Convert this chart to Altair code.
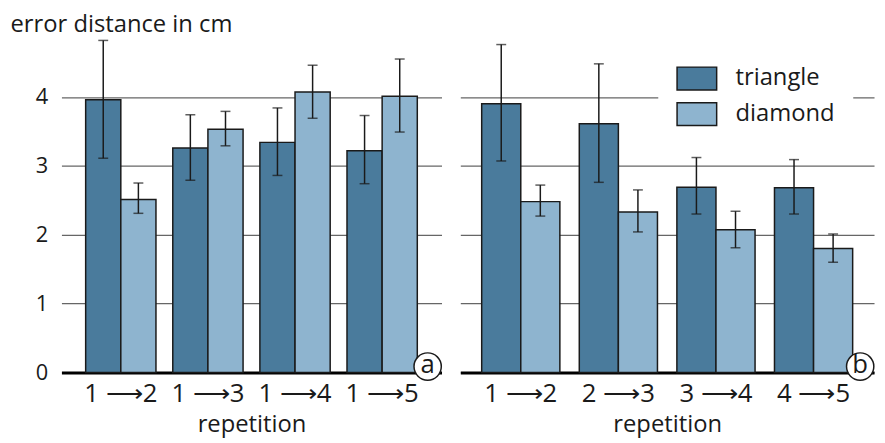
import altair as alt
import pandas as pd

FONT = "Open Sans"
INK = "#1a1a1a"

series = ["triangle", "diamond"]
series_colors = ["#4a7b9c", "#8eb4cf"]

groups_a = ["1 ⟶2", "1 ⟶3", "1 ⟶4", "1 ⟶5"]
a_tri = [3.96, 3.26, 3.34, 3.22]
a_tri_lo = [3.11, 2.79, 2.86, 2.74]
a_tri_hi = [4.82, 3.74, 3.84, 3.73]
a_dia = [2.51, 3.53, 4.07, 4.01]
a_dia_lo = [2.31, 3.29, 3.69, 3.49]
a_dia_hi = [2.75, 3.79, 4.46, 4.55]

groups_b = ["1 ⟶2", "2 ⟶3", "3 ⟶4", "4 ⟶5"]
b_tri = [3.90, 3.61, 2.69, 2.68]
b_tri_lo = [3.07, 2.76, 2.30, 2.30]
b_tri_hi = [4.76, 4.48, 3.12, 3.09]
b_dia = [2.48, 2.33, 2.07, 1.80]
b_dia_lo = [2.27, 2.04, 1.81, 1.60]
b_dia_hi = [2.72, 2.65, 2.34, 2.01]

y_ticks = [0, 1, 2, 3, 4]


def frame(groups, tri, tri_lo, tri_hi, dia, dia_lo, dia_hi):
    rows = []
    for i, g in enumerate(groups):
        rows.append(dict(rep=g, shape="triangle", value=tri[i], lo=tri_lo[i], hi=tri_hi[i]))
        rows.append(dict(rep=g, shape="diamond", value=dia[i], lo=dia_lo[i], hi=dia_hi[i]))
    return pd.DataFrame(rows)


def panel(df, groups, width, p_outer, p_inner, first, tag):
    x = alt.X(
        "rep:N", sort=groups,
        scale=alt.Scale(paddingInner=p_inner, paddingOuter=p_outer),
        axis=alt.Axis(title="repetition", labelAngle=0, ticks=False,
                      domainColor="black", domainWidth=3,
                      labelFont=FONT, labelFontSize=26, labelColor=INK, labelPadding=8,
                      titleFont=FONT, titleFontSize=24, titleFontWeight="normal",
                      titleColor=INK, titlePadding=7),
    )
    xo = alt.XOffset("shape:N", sort=series, scale=alt.Scale(paddingInner=0, paddingOuter=0))
    ytitle = "error distance in cm" if first else ""
    if first:
        yaxis = alt.Axis(values=y_ticks, format="d", grid=True, gridColor="#666666", gridWidth=1.3,
                         domain=False, ticks=False, labelFont=FONT, labelFontSize=22,
                         labelColor=INK, labelPadding=14,
                         title=ytitle, titleAngle=0, titleAlign="left",
                         titleBaseline="alphabetic", titleX=-52, titleY=4,
                         titleFont=FONT, titleFontSize=24, titleFontWeight="normal",
                         titleColor=INK)
    else:
        yaxis = alt.Axis(values=y_ticks, grid=True, gridColor="#666666", gridWidth=1.3,
                         domain=False, ticks=False, labels=False, title=None)
    yscale = alt.Scale(domain=[0, 5], nice=False)
    y = alt.Y("value:Q", scale=yscale, axis=yaxis, title=ytitle)
    if first:
        legend = None
    else:
        legend = alt.Legend(title=None, orient="none", legendX=200, legendY=12,
                            fillColor="white", padding=18,
                            symbolType="M-1,-0.575L1,-0.575L1,0.575L-1,0.575Z",
                            symbolSize=1600, symbolStrokeColor=INK, symbolStrokeWidth=1.5,
                            labelFont=FONT, labelFontSize=24, labelColor=INK,
                            labelOffset=18, rowPadding=-18)
    color = alt.Color("shape:N", sort=series,
                      scale=alt.Scale(domain=series, range=series_colors), legend=legend)
    base = alt.Chart(df)
    bars = base.mark_bar(stroke=INK, strokeWidth=1.5).encode(x=x, xOffset=xo, y=y, color=color)
    rules = base.mark_rule(color=INK, strokeWidth=1.5).encode(
        x=x, xOffset=xo, y=alt.Y("lo:Q", scale=yscale, title=ytitle), y2="hi:Q")
    cap_lo = base.mark_tick(color=INK, thickness=1.5, size=10).encode(
        x=x, xOffset=xo, y=alt.Y("lo:Q", scale=yscale, title=ytitle))
    cap_hi = base.mark_tick(color=INK, thickness=1.5, size=10).encode(
        x=x, xOffset=xo, y=alt.Y("hi:Q", scale=yscale, title=ytitle))
    tag_df = pd.DataFrame({"t": [tag]})
    circ = alt.Chart(tag_df).mark_circle(size=760, color="white", stroke=INK,
                                         strokeWidth=1.5, opacity=1).encode(
        x=alt.value(width - 14), y=alt.value(342))
    txt = alt.Chart(tag_df).mark_text(font=FONT, fontSize=26, color=INK,
                                      baseline="middle", dy=-1).encode(
        x=alt.value(width - 14), y=alt.value(342), text="t:N")
    return alt.layer(bars, rules, cap_lo, cap_hi, circ, txt).properties(width=width, height=348)


left = panel(frame(groups_a, a_tri, a_tri_lo, a_tri_hi, a_dia, a_dia_lo, a_dia_hi),
             groups_a, 384, 0.278, 0.193, True, "a")
right = panel(frame(groups_b, b_tri, b_tri_lo, b_tri_hi, b_dia, b_dia_lo, b_dia_hi),
              groups_b, 418, 0.219, 0.199, False, "b")

chart = alt.hconcat(left, right, spacing=16).resolve_scale(
    x="independent", y="independent", color="independent", xOffset="independent"
).resolve_legend(color="independent").properties(
    padding={"left": 2, "top": 3, "right": 0, "bottom": 0},
    background="white",
).configure_view(stroke=None)

chart.save("out.html", embed_options={"renderer": "svg", "actions": False})
